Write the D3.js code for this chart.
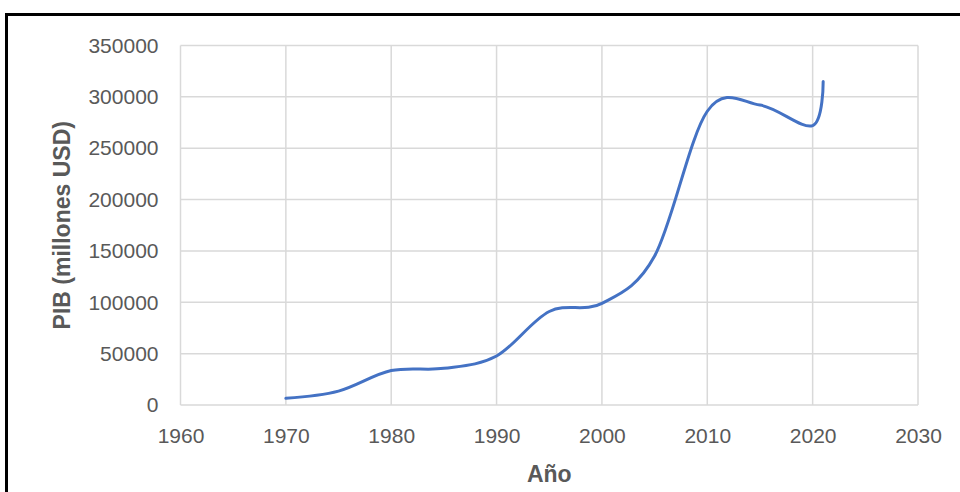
<!DOCTYPE html>
<html>
<head>
<meta charset="utf-8">
<script src="https://cdn.jsdelivr.net/npm/d3@7"></script>
<style>
  body { margin:0; background:#fff; }
  svg { display:block; }
  .tick text { font-family:"Liberation Sans", Arial, sans-serif; font-size:21px; fill:#595959; }
</style>
</head>
<body>
<div id="chart"></div>
<script>
// data
var years = [1970,1975,1980,1985,1990,1995,2000,2005,2010,2015,2020,2021];
var pib   = [6500,13500,33500,35700,47700,91000,99000,145000,286000,292000,272000,315000];
var xTicks = [1960,1970,1980,1990,2000,2010,2020,2030];
var yTicks = [0,50000,100000,150000,200000,250000,300000,350000];

var W = 960, H = 492;
var margin = {top:45.5, right:42, bottom:87, left:180.5};
var width = W - margin.left - margin.right,
    height = H - margin.top - margin.bottom;

var svg = d3.select("#chart").append("svg")
  .attr("width", W)
  .attr("height", H);

// outer black frame (only top and left visible)
svg.append("path")
  .attr("d", "M6.5," + (H+5) + "V14.5H" + (W+5))
  .attr("fill", "none")
  .attr("stroke", "#000")
  .attr("stroke-width", 3);

var g = svg.append("g")
  .attr("transform", "translate(" + margin.left + "," + margin.top + ")");

var x = d3.scaleLinear().domain([1960,2030]).range([0,width]);
var y = d3.scaleLinear().domain([0,350000]).range([height,0]);

// grid
g.append("g")
  .selectAll("line.v")
  .data(xTicks)
  .enter().append("line")
  .attr("x1", function(d){ return x(d); })
  .attr("x2", function(d){ return x(d); })
  .attr("y1", 0).attr("y2", height)
  .attr("stroke", "#d9d9d9").attr("stroke-width", 1.5);

g.append("g")
  .selectAll("line.h")
  .data(yTicks)
  .enter().append("line")
  .attr("x1", 0).attr("x2", width)
  .attr("y1", function(d){ return y(d); })
  .attr("y2", function(d){ return y(d); })
  .attr("stroke", "#d9d9d9").attr("stroke-width", 1.5);

// axes (labels only)
var xa = g.append("g")
  .attr("transform", "translate(0," + height + ")")
  .call(d3.axisBottom(x).tickValues(xTicks).tickFormat(d3.format("d")).tickSize(0).tickPadding(23));
xa.select(".domain").remove();

var ya = g.append("g")
  .call(d3.axisLeft(y).tickValues(yTicks).tickFormat(d3.format("d")).tickSize(0).tickPadding(22));
ya.select(".domain").remove();

// line
var line = d3.line()
  .x(function(d,i){ return x(years[i]); })
  .y(function(d){ return y(d); })
  .curve(d3.curveCardinal.tension(0));

g.append("path")
  .attr("d", line(pib))
  .attr("fill", "none")
  .attr("stroke", "#4472c4")
  .attr("stroke-width", 3)
  .attr("stroke-linecap", "round");

// titles
svg.append("text")
  .attr("x", margin.left + width/2)
  .attr("y", 482)
  .attr("text-anchor", "middle")
  .style("font-family", "'Liberation Sans', Arial, sans-serif")
  .style("font-size", "23px")
  .style("font-weight", "bold")
  .style("fill", "#595959")
  .text("Año");

svg.append("text")
  .attr("transform", "translate(70," + (margin.top + height/2) + ") rotate(-90)")
  .attr("text-anchor", "middle")
  .style("font-family", "'Liberation Sans', Arial, sans-serif")
  .style("font-size", "23px")
  .style("font-weight", "bold")
  .style("fill", "#595959")
  .text("PIB (millones USD)");
</script>
</body>
</html>
